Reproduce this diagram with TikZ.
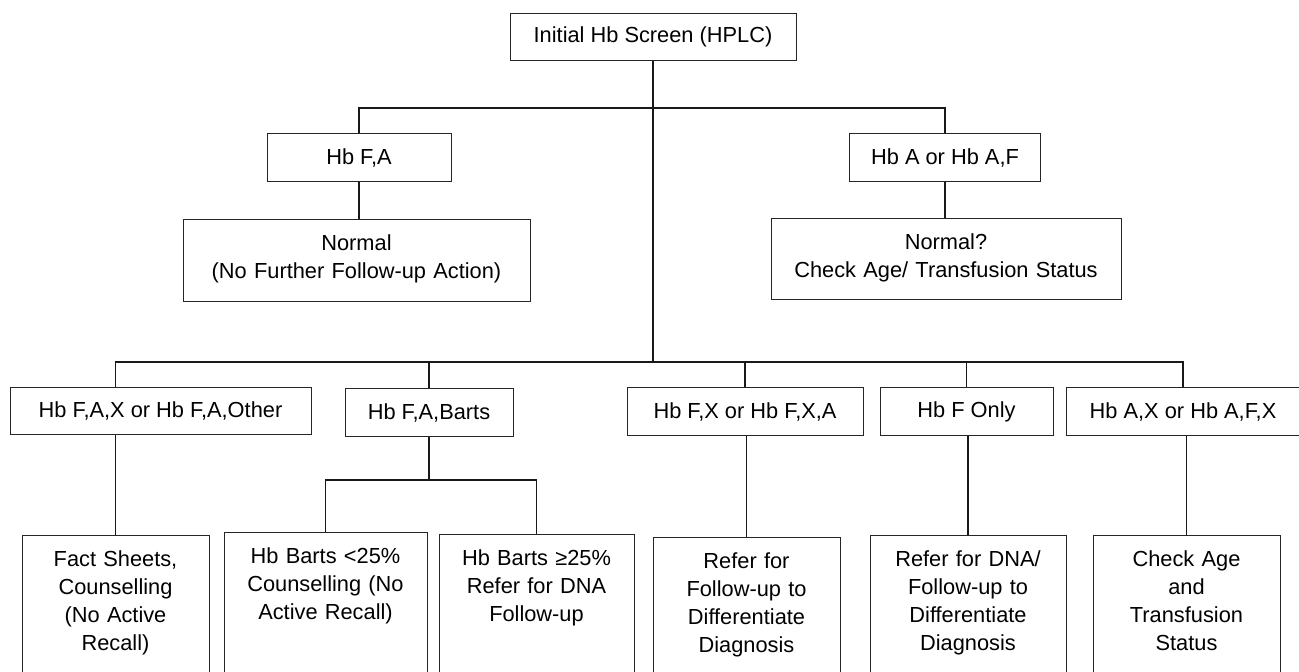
\documentclass[tikz,border=0pt]{standalone}
\usepackage{fontspec}
\setmainfont{Liberation Sans}
\newcommand\chartfont{\fontsize{21.8pt}{28pt}\selectfont}
\begin{document}
\begin{tikzpicture}[x=1pt,y=-1pt,
  box/.style={draw=black!85, line width=1pt, inner sep=0pt, align=center, font=\chartfont},
  single/.style={box, minimum height=47.5pt},
  tall/.style={box, anchor=north, text height=31pt},
  low/.style={tall, text depth=200pt},
  link/.style={draw=black!90, line width=1.6pt}]
\useasboundingbox (0,0) rectangle (1299,672);
\clip (0,0) rectangle (1299,672);
% level 0 and 1
\node[single, minimum width=286pt] (top) at (653,37) {Initial Hb Screen (HPLC)};
\node[single, minimum width=184pt] (fa) at (359,157.5) {Hb F,A};
\node[single, minimum width=191.5pt] (aaf) at (945,157.5) {Hb A or Hb A,F};
\node[tall, text width=347pt, text depth=51pt] (n1) at (356.5,219) {Normal\\(No Further Follow-up Action)};
\node[tall, text width=350pt, text depth=50pt] (n2) at (946,218) {Normal?\\Check Age/ Transfusion Status};
% level 2
\node[single, minimum width=301pt] (b1) at (160.5,411) {Hb F,A,X or Hb F,A,Other};
\node[single, minimum width=168pt] (b2) at (429,412.5) {Hb F,A,Barts};
\node[single, minimum width=236pt] (b3) at (745,411.5) {Hb F,X or Hb F,X,A};
\node[single, minimum width=173pt] (b4) at (966.5,411.5) {Hb F Only};
\node[single, minimum width=234pt] (b5) at (1183,411.5) {Hb A,X or Hb A,F,X};
% level 3
\node[low, text width=187pt] (c1) at (115.5,535) {Fact Sheets,\\Counselling\\(No Active\\Recall)};
\node[low, text width=203pt] (c2) at (325.5,532) {Hb Barts <25\%\\Counselling (No\\Active Recall)};
\node[low, text width=195pt] (c3) at (536.5,534) {Hb Barts ≥25\%\\Refer for DNA\\Follow-up};
\node[low, text width=187pt] (c4) at (746.5,537) {Refer for\\Follow-up to\\Differentiate\\Diagnosis};
\node[low, text width=196pt] (c5) at (968,535) {Refer for DNA/\\Follow-up to\\Differentiate\\Diagnosis};
\node[low, text width=187pt] (c6) at (1186.5,535) {Check Age\\and\\Transfusion\\Status};
% buses
\coordinate (bus1) at (0,108);
\coordinate (bus2) at (0,362);
\coordinate (bus3) at (0,480);
% connectors
\draw[link] (top.south) -- (top.south |- bus2);
\draw[link] (fa.north) |- (bus1 -| top.south);
\draw[link] (aaf.north) |- (bus1 -| top.south);
\draw[link] (fa.south) -- (fa.south |- n1.north);
\draw[link] (aaf.south) -- (aaf.south |- n2.north);
\draw[link] (b1.north -| c1.north) |- (bus2 -| top.south);
\draw[link] (b2.north) |- (bus2 -| top.south);
\draw[link] (b3.north) |- (bus2 -| top.south);
\draw[link] (b4.north) |- (bus2 -| top.south);
\draw[link] (b5.north) |- (bus2 -| top.south);
\draw[link] (b1.south -| c1.north) -- (c1.north);
\draw[link] (b2.south) -- (b2.south |- bus3);
\draw[link] (c2.north) |- (bus3 -| c3.north) -- (c3.north);
\draw[link] (b3.south -| c4.north) -- (c4.north);
\draw[link] (b4.south -| c5.north) -- (c5.north);
\draw[link] (b5.south -| c6.north) -- (c6.north);
\end{tikzpicture}
\end{document}
